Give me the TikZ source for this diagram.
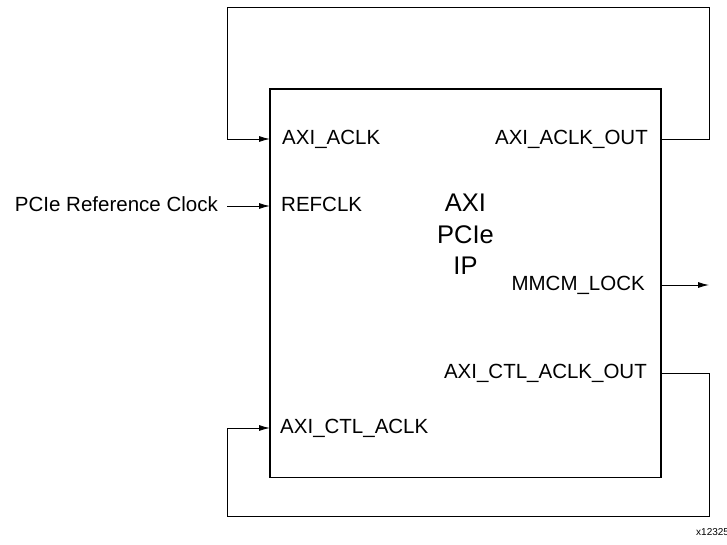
\documentclass[tikz,border=0pt]{standalone}
\usepackage{fontspec}
\setmainfont{Liberation Sans}
\usetikzlibrary{arrows.meta, positioning, calc}

\begin{document}
\begin{tikzpicture}[x=1pt, y=-1pt,
        port/.style={font=\fontsize{20.5}{24}\selectfont, inner ysep=0pt, text height=10pt, text depth=0pt},
        wire/.style={line width=0.9pt},
        sig/.style={wire, -{Latex[length=11pt, width=6pt]}}]
        \useasboundingbox (0,0) rectangle (727,544);

        % IP block
        \node[draw, line width=1.8pt, minimum width=391pt, minimum height=388.5pt, inner sep=0pt] (ip) at (465.5,283.25) {};
        \node[font=\fontsize{25.5}{31.7}\selectfont, align=center, inner sep=0pt] (iptitle) at (465.5,234.4) {AXI\\PCIe\\IP};

        % ports, left side
        \node[port, anchor=west, inner xsep=12pt] (aclk)   at (270,139) {AXI\_ACLK};
        \node[port, anchor=west, inner xsep=11pt] (refclk) at (270,206) {REFCLK};
        \node[port, anchor=west, inner xsep=10pt] (ctlclk) at (270,428) {AXI\_CTL\_ACLK};

        % ports, right side
        \node[port, anchor=east, inner xsep=13pt] (aclkout) at (661,139) {AXI\_ACLK\_OUT};
        \node[port, anchor=east, inner xsep=16pt] (mmcm)    at (661,285) {MMCM\_LOCK};
        \node[port, anchor=east, inner xsep=14pt] (ctlout)  at (661,373) {AXI\_CTL\_ACLK\_OUT};

        % reference clock input
        \node[port, anchor=east, inner xsep=9pt] (refsrc) at (227,206) {PCIe Reference Clock};
        \draw[sig] (refsrc.east) -- (refclk.west);

        % clock loops
        \draw[sig] (aclkout.east) -| (709,7.5) -| (227,139) -- (aclk.west);
        \draw[sig] (ctlout.east) -| (709,516) -| (227,428) -- (ctlclk.west);

        % lock output
        \coordinate (lockend) at (709,285);
        \draw[sig] (mmcm.east) -- (lockend);

        \node[font=\fontsize{10}{12}\selectfont, anchor=base west, inner sep=0pt] (figid) at (696,535) {x12325};
    \end{tikzpicture}
\end{document}
